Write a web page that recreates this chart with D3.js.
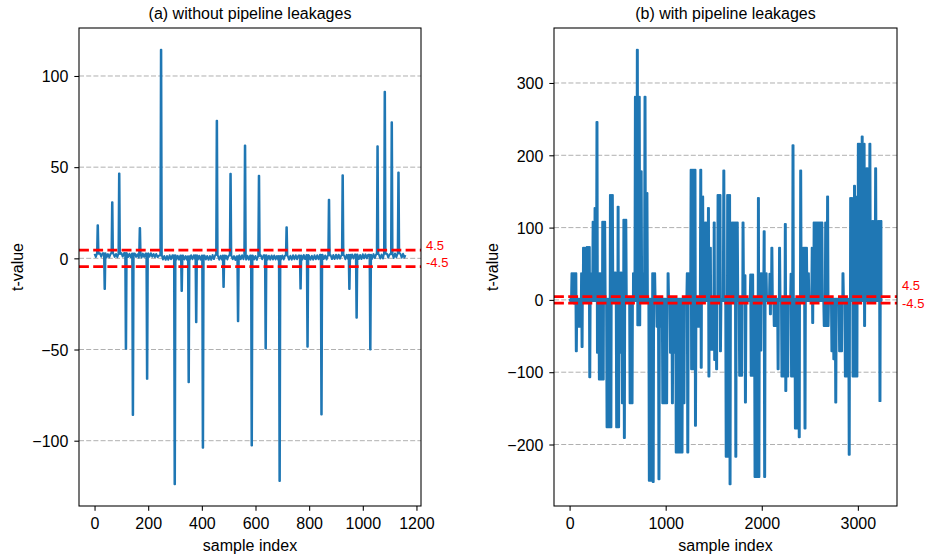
<!DOCTYPE html>
<html>
<head>
<meta charset="utf-8">
<script src="https://cdn.jsdelivr.net/npm/d3@7"></script>
<style>
  body { margin: 0; background: #fff; }
  svg { font-family: "Liberation Sans", Arial, sans-serif; }
</style>
</head>
<body>
<svg id="chart" width="925" height="559"></svg>
<script>
// ---------------------------------------------------- data, panel (a)
// isolated spikes: [sample index, t-value]
const spikesA = [
  [12, 18.2], [38, -16.8], [66, 30.7], [92, 46.5], [117, -49.6], [143, -85.9],
  [169, 16.6], [196, -66.1], [248, 114.4], [299, -123.9], [325, -17.9], [351, -67.9],
  [379, -35], [404, -103.9], [456, 75.4], [481, -15.7], [507, 46.4], [535, -34.5],
  [561, 61.9], [586, -102.6], [613, 45.3], [638, -49.4], [690, -122.1], [716, 17],
  [768, -16.6], [794, -48.5], [846, -85.6], [874, 32.1], [925, 45.6], [950, -16.8],
  [977, -32.6], [1028, -50], [1055, 61.5], [1082, 91.4], [1108, 74.6], [1133, 47.1]
];
// noise floor per 20-sample column: upper and lower edge (index 0 .. 1140)
const stepA = 20;
const baseHiA = [
  2.5, 2.8, 2.3, 2.6, 2.4, 2.9, 2.5, 2.7, 2.2, 2.6, 2.8, 2.4,
  1.5, 1.3, 1.7, 1.4, 1.6, 1.2, 1.7, 1.4, 1.6, 1.3, 1.8, 1.4,
  1.5, 1.6, 1.2, 1.7, 1.4, 1.5, 1.3, 1.7, 1.4, 1.6, 1.3,
  1.6, 1.4, 1.7, 1.5, 1.8, 1.4, 1.7, 1.9, 1.6, 1.8, 2.0, 1.7,
  1.9, 2.1, 1.8, 2.2, 2.0, 2.3, 2.1, 2.5, 2.3, 2.7, 2.5
];
const baseLoA = [
  0.7, 0.9, 0.5, 0.8, 0.6, 1.0, 0.7, 0.8, 0.4, 0.8, 0.9, 0.6,
  -0.6, -0.8, -0.5, -0.7, -0.6, -0.9, -0.5, -0.7, -0.6, -0.8, -0.4, -0.7,
  -0.6, -0.5, -0.9, -0.5, -0.7, -0.6, -0.8, -0.5, -0.7, -0.6, -0.8,
  -0.6, -0.7, -0.5, -0.6, -0.4, -0.7, -0.5, -0.3, -0.6, -0.4, -0.2, -0.5,
  -0.3, -0.1, -0.4, 0.0, -0.2, 0.2, -0.1, 0.4, 0.2, 0.6, 0.4
];
const lastA = [1159, 1.8];

// ---------------------------------------------------- data, panel (b)
// per 20-sample column: highest and lowest t-value reached
const stepB = 20;
const lastIndexB = 3245;
const hiB = [
  1.5, 37, 37, 37, 1.5, 1.5, 37, 72, 72, 73,
  73, 37, 108, 127, 246, 37, 37, 108, 108, 1.5,
  1.5, 145, 145, 38, 38, 129, 38, 38, 111, 111,
  1.5, 1.5, 1.5, 37, 281, 346, 281, 178, 37, 281,
  148, 1.5, 1.5, 37, 37, 1.5, 1.5, 1.5, 1.5, 1.5,
  1.5, 37, 1.5, 1.5, 1.5, 1.5, 1.5, 1.5, 1.5, 1.5,
  1.5, 37, 37, 180, 180, 180, 1.5, 1.5, 180, 143,
  107, 107, 127, 72, 1.5, 107, 1.5, 145, 145, 1.5,
  179, 1.5, 145, 145, 107, 107, 107, 107, 1.5, 1.5,
  107, 34, 1.5, 1.5, 35, 35, 1.5, 1.5, 141, 37,
  37, 95, 37, 1.5, 36, 72, 1.5, 1.5, 1.5, 72,
  1.5, 1.5, 105, 1.5, 1.5, 36, 214, 1.5, 1.5, 1.5,
  179, 72, 72, 72, 37, 1.5, 72, 107, 107, 107,
  107, 107, 1.5, 107, 143, 1.5, 1.5, 1.5, 1.5, 1.5,
  1.5, 1.5, 37, 1.5, 1.5, 1.5, 141, 141, 158, 143,
  216, 216, 226, 216, 182, 182, 216, 109, 109, 182,
  109, 109, 109
];
const loB = [
  -1.5, -1.5, -5, -71, -37, -37, -65, -1.5, -1.5, -1.5,
  -107, -1.5, -1.5, -1.5, -73, -110, -110, -110, -1.5, -176,
  -176, -176, -1.5, -1.5, -176, -176, -73, -143, -191, -1.5,
  -1.5, -143, -143, -1.5, -1.5, -35, -35, -1.5, -1.5, -1.5,
  -1.5, -250, -250, -252, -1.5, -37, -248, -37, -143, -143,
  -143, -1.5, -73, -143, -73, -211, -211, -211, -211, -143,
  -1.5, -211, -1.5, -96, -96, -174, -37, -37, -94, -1.5,
  -1.5, -1.5, -106, -69, -69, -83, -96, -1.5, -71, -1.5,
  -1.5, -217, -217, -255, -1.5, -1.5, -217, -1.5, -105, -105,
  -1.5, -142, -1.5, -1.5, -105, -105, -245, -245, -245, -70,
  -1.5, -245, -1.5, -1.5, -20, -1.5, -36, -36, -96, -1.5,
  -106, -106, -126, -106, -1.5, -106, -106, -178, -178, -190,
  -1.5, -1.5, -178, -1.5, -1.5, -1.5, -32, -1.5, -1.5, -1.5,
  -1.5, -1.5, -36, -36, -36, -1.5, -71, -82, -142, -1.5,
  -71, -71, -1.5, -106, -106, -214, -1.5, -106, -106, -106,
  -1.5, -1.5, -1.5, -36, -1.5, -1.5, -1.5, -1.5, -1.5, -1.5,
  -1.5, -140, -1.5
];

// ---------------------------------------------------- ticks / labels
const xTicksA = [0, 200, 400, 600, 800, 1000, 1200];
const yTicksA = [-100, -50, 0, 50, 100];
const xTicksB = [0, 1000, 2000, 3000];
const yTicksB = [-200, -100, 0, 100, 200, 300];
const thresholds = [4.5, -4.5];
const titles = ["(a) without pipeline leakages", "(b) with pipeline leakages"];

// ---------------------------------------------------- build point lists
// a column: the trace swings between its high and low value
function columns(hi, lo, step, lastIndex) {
  const pts = [];
  hi.forEach(function(h, k) {
    [0, 5, 10, 15].forEach(function(o, j) {
      pts.push([Math.min(k * step + o, lastIndex), j % 2 ? lo[k] : h]);
    });
  });
  return pts;
}

let pointsA = columns(baseHiA, baseLoA, stepA, lastA[0]).concat([lastA]);
pointsA = pointsA.filter(p => !spikesA.some(s => Math.abs(s[0] - p[0]) <= 3));
spikesA.forEach(function(s) {
  const b = baseHiA[Math.min(baseHiA.length - 1, Math.floor(s[0] / stepA))];
  pointsA.push([s[0] - 3, b], [s[0] - 1, s[1]], [s[0] + 1, s[1]], [s[0] + 3, b]);
});
pointsA.sort((a, b) => a[0] - b[0]);

const pointsB = columns(hiB, loB, stepB, lastIndexB);

// ---------------------------------------------------- drawing
const svg = d3.select("#chart");
const fmt = d => String(d).replace("-", "\u2212");

// matplotlib style 5% margins
function pad(ext) {
  const r = ext[1] - ext[0];
  return [ext[0] - 0.05 * r, ext[1] + 0.05 * r];
}

function drawPanel(p) {
  const g = svg.append("g");

  const x = d3.scaleLinear().domain(pad([0, p.xmax])).range([p.left, p.right]);
  const y = d3.scaleLinear().domain(pad(d3.extent(p.points, d => d[1]))).range([p.bottom, p.top]);

  // grid
  g.append("g").selectAll("line")
    .data(p.yTicks)
    .join("line")
      .attr("x1", p.left).attr("x2", p.right)
      .attr("y1", d => y(d)).attr("y2", d => y(d))
      .attr("stroke", "#b0b0b0")
      .attr("stroke-width", 1)
      .attr("stroke-dasharray", "5,2.2");

  // t-value trace
  const line = d3.line()
      .x(d => x(d[0]))
      .y(d => y(d[1]));

  g.append("path")
    .datum(p.points)
    .attr("fill", "none")
    .attr("stroke", "#1f77b4")
    .attr("stroke-width", 2)
    .attr("stroke-linejoin", "round")
    .attr("d", line);

  // thresholds
  g.append("g").selectAll("line")
    .data(thresholds)
    .join("line")
      .attr("x1", p.left).attr("x2", p.right)
      .attr("y1", d => y(d)).attr("y2", d => y(d))
      .attr("stroke", "red")
      .attr("stroke-width", 2.67)
      .attr("stroke-dasharray", "9.9,4.3");

  g.append("g").selectAll("text")
    .data(thresholds)
    .join("text")
      .attr("x", p.right + 5)
      .attr("y", (d, i) => y(d) + p.labelShift[i])
      .attr("fill", "red")
      .attr("font-size", 13)
      .text(d => String(d));

  // axes
  const xAxis = g.append("g")
      .attr("transform", `translate(0,${p.bottom})`)
      .call(d3.axisBottom(x).tickValues(p.xTicks).tickSize(4.67).tickPadding(6.8).tickFormat(fmt));
  const yAxis = g.append("g")
      .attr("transform", `translate(${p.left},0)`)
      .call(d3.axisLeft(y).tickValues(p.yTicks).tickSize(4.67).tickPadding(6).tickFormat(fmt));

  [xAxis, yAxis].forEach(function(a) {
    a.select(".domain").remove();
    a.attr("font-size", 16).attr("font-family", null);
    a.selectAll("line").attr("stroke", "#000").attr("stroke-width", 1.07);
    a.selectAll("text").attr("fill", "#000");
  });
  yAxis.selectAll("text").attr("dy", "0.36em");

  // frame
  g.append("rect")
    .attr("x", p.left).attr("y", p.top)
    .attr("width", p.right - p.left).attr("height", p.bottom - p.top)
    .attr("fill", "none")
    .attr("stroke", "#000")
    .attr("stroke-width", 1.07);

  // title and labels
  g.append("text")
    .text(p.title)
    .attr("x", (p.left + p.right) / 2)
    .attr("y", 19)
    .attr("text-anchor", "middle")
    .attr("font-size", 16);

  g.append("text")
    .text("sample index")
    .attr("x", (p.left + p.right) / 2)
    .attr("y", 550.5)
    .attr("text-anchor", "middle")
    .attr("font-size", 16);

  g.append("text")
    .text("t-value")
    .attr("transform", `translate(${p.ylabelX},${(p.top + p.bottom) / 2}) rotate(-90)`)
    .attr("text-anchor", "middle")
    .attr("font-size", 16);
}

drawPanel({
  left: 79, right: 421, top: 28, bottom: 506,
  points: pointsA, xmax: lastA[0],
  xTicks: xTicksA, yTicks: yTicksA,
  title: titles[0], ylabelX: 23, labelShift: [0, 0]
});

drawPanel({
  left: 554, right: 897, top: 28, bottom: 506,
  points: pointsB, xmax: lastIndexB,
  xTicks: xTicksB, yTicks: yTicksB,
  title: titles[1], ylabelX: 498, labelShift: [-6.3, 5]
});
</script>
</body>
</html>
